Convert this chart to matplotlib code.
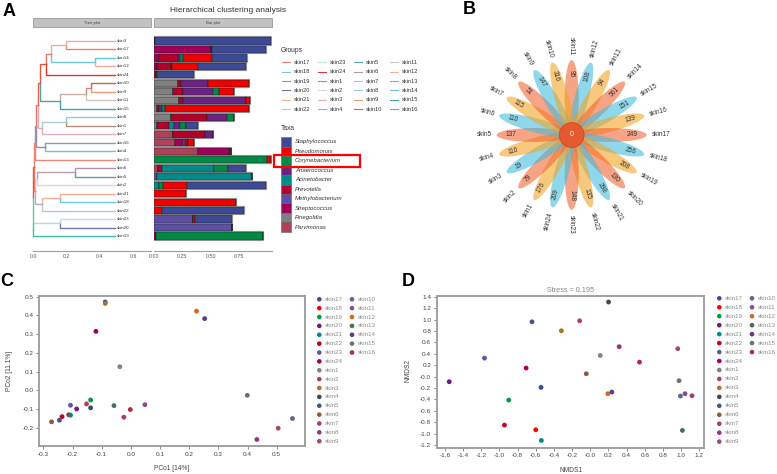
import matplotlib
matplotlib.use('Agg')
import numpy as np
import matplotlib.pyplot as plt
from matplotlib.patches import Ellipse, Circle, Rectangle

plt.rcParams['font.family'] = ['Liberation Sans', 'DejaVu Sans']
plt.rcParams['axes.unicode_minus'] = False

# ---------------------------------------------------------------- data
samples = ['skin17', 'skin18', 'skin19', 'skin20', 'skin21', 'skin22', 'skin23', 'skin24',
           'skin1', 'skin2', 'skin3', 'skin4', 'skin5', 'skin6', 'skin7', 'skin8',
           'skin9', 'skin10', 'skin11', 'skin12', 'skin13', 'skin14', 'skin15', 'skin16']

# line colours of the "Groups" legend / tree branches
group_colors = ['#E8837A', '#6ECBE0', '#3DBF9D', '#6F76AE', '#F6B08E', '#BFC3DC', '#BFE5D8', '#D93A2E',
                '#B38A7C', '#DCD4DA', '#DDB2A8', '#6CC6CC', '#5F9CAE', '#B595AD', '#E4AFBE', '#9BC9CF',
                '#EA9B7E', '#C26A56', '#CBCBC2', '#F2AE96', '#F08878', '#66C9DA', '#45A5A2', '#9494B6']

# point colours for PCoA / NMDS
point_colors = ['#3B4BA3', '#FF0000', '#009A46', '#6A1A8A', '#00898A', '#C4001F', '#5B58A8', '#A6005C',
                '#838383', '#B23F5A', '#A8761E', '#414A52', '#4A5585', '#8A5A48', '#A8405C', '#93338A',
                '#A04B6E', '#5E6596', '#8A4B8C', '#D5651F', '#3E7555', '#5C3B8E', '#67776A', '#B52A3E']

# dendrogram
leaf_order = ['skin3', 'skin17', 'skin14', 'skin12', 'skin24', 'skin10', 'skin9', 'skin11',
              'skin15', 'skin8', 'skin1', 'skin7', 'skin16', 'skin4', 'skin13', 'skin6',
              'skin5', 'skin2', 'skin21', 'skin18', 'skin22', 'skin23', 'skin20', 'skin19']
leaf_depth = 0.49
merges = [('n1', 'skin3', 'skin17', 0.20), ('n2', 'skin14', 'skin12', 0.37),
          ('n3', 'n1', 'n2', 0.11), ('n4', 'n3', 'skin24', 0.08),
          ('n5', 'skin10', 'skin9', 0.35), ('n6', 'n5', 'skin11', 0.32),
          ('n7', 'n6', 'skin15', 0.16), ('n8', 'n4', 'n7', 0.042),
          ('n9', 'skin8', 'skin1', 0.197), ('n10', 'n9', 'skin7', 0.052),
          ('n11', 'n8', 'n10', 0.03), ('n12', 'skin16', 'skin4', 0.072),
          ('n13', 'n11', 'n12', 0.02), ('n14', 'n13', 'skin13', 0.012),
          ('n15', 'skin6', 'skin5', 0.25), ('n16', 'n15', 'skin2', 0.026),
          ('n17', 'skin21', 'skin18', 0.16), ('n18', 'n17', 'skin22', 0.052),
          ('n19', 'n16', 'n18', 0.012), ('n20', 'n14', 'n19', 0.006),
          ('n21', 'skin23', 'skin20', 0.16), ('n22', 'n21', 'skin19', 0.002),
          ('root', 'n20', 'n22', 0.0)]
node_colors = {'n1': '#D9B3A8', 'n2': '#6CC8D8', 'n3': '#E07868', 'n4': '#E8503C',
               'n5': '#C98A78', 'n6': '#C8B0A8', 'n7': '#4AA898', 'n8': '#E8604C',
               'n9': '#A8D0D2', 'n10': '#E0A8B0', 'n11': '#F07060', 'n12': '#8C8CB0',
               'n13': '#A890A0', 'n14': '#F08070', 'n15': '#B8A0B0', 'n16': '#D8D4DC',
               'n17': '#F4B090', 'n18': '#B0B0D0', 'n19': '#F08070', 'n20': '#F05040',
               'n21': '#B0E0D0', 'n22': '#60C8A8'}

# taxa bar plot (relative abundance, same order as leaf_order)
taxa = ['Staphylococcus', 'Pseudomonas', 'Corynebacterium', 'Anaerococcus', 'Acinetobacter',
        'Prevotella', 'Methylobacterium', 'Streptococcus', 'Finegoldia', 'Parvimonas']
taxa_colors = ['#3C4A96', '#F00000', '#008B45', '#6B2383', '#008B8B',
               '#B5002B', '#5E4FA2', '#A0005A', '#808080', '#B0415A']
stack_order = ['Parvimonas', 'Finegoldia', 'Streptococcus', 'Methylobacterium', 'Prevotella',
               'Acinetobacter', 'Anaerococcus', 'Corynebacterium', 'Pseudomonas', 'Staphylococcus']
abund = {
    'skin3':  [0, 0, 0.006, 0, 0, 0, 0, 0, 0, 1.02],
    'skin17': [0, 0, 0.50, 0, 0, 0, 0.008, 0, 0, 0.48],
    'skin14': [0, 0, 0.047, 0, 0.167, 0, 0.012, 0.03, 0.255, 0.31],
    'skin12': [0, 0, 0.03, 0, 0.12, 0, 0.01, 0, 0.225, 0.42],
    'skin24': [0, 0, 0, 0, 0.015, 0, 0, 0.015, 0, 0.32],
    'skin10': [0, 0.214, 0, 0, 0.02, 0, 0.24, 0, 0.365, 0],
    'skin9':  [0, 0.17, 0, 0, 0.082, 0, 0.264, 0.053, 0.132, 0],
    'skin11': [0, 0.223, 0, 0, 0.03, 0, 0.554, 0, 0.038, 0],
    'skin15': [0, 0.03, 0, 0, 0.018, 0, 0.02, 0.03, 0.74, 0],
    'skin8':  [0, 0.147, 0, 0, 0.317, 0, 0.176, 0.067, 0, 0],
    'skin1':  [0, 0.03, 0, 0, 0.105, 0.041, 0.053, 0.053, 0, 0.105],
    'skin7':  [0.17, 0, 0, 0, 0.279, 0, 0.067, 0, 0, 0],
    'skin16': [0.185, 0, 0.073, 0.015, 0.03, 0, 0, 0, 0.047, 0],
    'skin4':  [0.39, 0, 0.273, 0, 0.01, 0, 0, 0, 0, 0],
    'skin13': [0, 0, 0, 0, 0, 0, 0, 0.99, 0.035, 0],
    'skin6':  [0.038, 0, 0, 0, 0.03, 0.463, 0, 0.123, 0, 0.155],
    'skin5':  [0, 0, 0, 0.023, 0, 0.84, 0, 0, 0, 0],
    'skin2':  [0, 0, 0, 0, 0, 0.047, 0, 0.03, 0.21, 0.695],
    'skin21': [0, 0, 0, 0, 0, 0, 0, 0, 0.28, 0],
    'skin18': [0, 0, 0, 0, 0, 0, 0, 0, 0.72, 0],
    'skin22': [0, 0, 0, 0, 0, 0, 0, 0, 0.073, 0.715],
    'skin23': [0, 0, 0, 0.34, 0, 0, 0, 0, 0.02, 0.33],
    'skin20': [0, 0, 0, 0.683, 0, 0, 0, 0, 0, 0],
    'skin19': [0, 0, 0.018, 0, 0, 0, 0, 0.94, 0, 0],
}

# flower plot (clockwise from top)
flower_names = ['skin11', 'skin12', 'skin13', 'skin14', 'skin15', 'skin16', 'skin17', 'skin18',
                'skin19', 'skin20', 'skin21', 'skin22', 'skin23', 'skin24', 'skin1', 'skin2',
                'skin3', 'skin4', 'skin5', 'skin6', 'skin7', 'skin8', 'skin9', 'skin10']
flower_counts = [95, 108, 94, 561, 151, 139, 249, 256, 208, 130, 298, 135,
                 148, 209, 176, 79, 19, 110, 137, 110, 115, 51, 147, 316]
core_count = 0
petal_colors = ['#F2612F', '#3FBCDE', '#F3A31E']

# PCoA
pcoa = {'skin17': (-0.088, 0.472), 'skin3': (-0.088, 0.464), 'skin24': (-0.12, 0.315),
        'skin12': (0.225, 0.423), 'skin14': (0.253, 0.383), 'skin1': (-0.038, 0.126),
        'skin15': (0.399, -0.027), 'skin10': (0.554, -0.151), 'skin9': (0.505, -0.203),
        'skin8': (0.432, -0.263), 'skin11': (0.048, -0.077), 'skin16': (-0.002, -0.103),
        'skin7': (-0.024, -0.144), 'skin13': (-0.058, -0.082), 'skin19': (-0.138, -0.052),
        'skin4': (-0.138, -0.094), 'skin2': (-0.152, -0.073), 'skin20': (-0.186, -0.1),
        'skin23': (-0.207, -0.08), 'skin21': (-0.207, -0.133), 'skin18': (-0.213, -0.131),
        'skin22': (-0.236, -0.141), 'skin5': (-0.245, -0.16), 'skin6': (-0.272, -0.169)}
# NMDS
nmds = {'skin4': (0.201, 1.307), 'skin5': (-0.641, 0.96), 'skin2': (-0.117, 0.978),
        'skin3': (-0.318, 0.803), 'skin8': (0.318, 0.524), 'skin9': (0.963, 0.489),
        'skin1': (0.11, 0.37), 'skin23': (-1.164, 0.324), 'skin16': (0.542, 0.254),
        'skin24': (-0.706, 0.15), 'skin6': (-0.044, 0.05), 'skin20': (-1.552, -0.09),
        'skin17': (-0.542, -0.189), 'skin15': (0.977, -0.072), 'skin12': (0.194, -0.3),
        'skin14': (0.238, -0.27), 'skin10': (0.992, -0.341), 'skin11': (1.043, -0.3),
        'skin7': (1.12, -0.335), 'skin19': (-0.897, -0.411), 'skin22': (-0.944, -0.85),
        'skin18': (-0.6, -0.932), 'skin21': (-0.538, -1.119), 'skin13': (1.014, -0.943)}
stress = 0.195

# ---------------------------------------------------------------- figure
W, H = 777, 474
fig = plt.figure(figsize=(W / 100, H / 100), dpi=100)


def px_axes(x0, y0, x1, y1):
    return fig.add_axes([x0 / W, 1 - y1 / H, (x1 - x0) / W, (y1 - y0) / H])


gcol = dict(zip(samples, group_colors))
pcol = dict(zip(samples, point_colors))

# ---- A: tree
tx = px_axes(33, 30, 151, 250.5)
tx.set_xlim(0, 0.706)
tx.set_ylim(-1.71, 24.3)
pos = {leaf: (leaf_depth, 23 - i) for i, leaf in enumerate(leaf_order)}
for name, a, b, h in merges:
    pos[name] = (h, (pos[a][1] + pos[b][1]) / 2)
for name, a, b, h in merges:
    py = pos[name][1]
    for c in (a, b):
        cx, cy = pos[c]
        col = gcol[c] if c in gcol else node_colors[c]
        tx.plot([h, h, cx], [py, cy, cy], color=col, lw=1.0, clip_on=False,
                solid_joinstyle='miter')
for leaf in leaf_order:
    tx.text(leaf_depth + 0.012, pos[leaf][1], leaf, fontsize=3.2, color='#333333',
            va='center', ha='left')

# ---- A: bars
bx = px_axes(154, 30, 272, 250.5)
bx.set_xlim(0, 1.038)
bx.set_ylim(-1.71, 24.3)
ys = np.array([23 - i for i in range(len(leaf_order))])
vals = np.array([abund[s] for s in leaf_order])
bx.barh(ys, vals.sum(axis=1), height=0.84, color='none', edgecolor='#B0B0B0', lw=1.6, zorder=1)
left = np.zeros(len(leaf_order))
for j, tname in enumerate(stack_order):
    col = taxa_colors[taxa.index(tname)]
    bx.barh(ys, vals[:, j], left=left, height=0.84, color=col, edgecolor='#222222', lw=0.35, zorder=2)
    left += vals[:, j]

for ax, ticks, labels in ((tx, [0, 0.2, 0.4, 0.6], ['0.0', '0.2', '0.4', '0.6']),
                          (bx, [0, 0.25, 0.5, 0.75], ['0.00', '0.25', '0.50', '0.75'])):
    for s in ('top', 'right', 'left'):
        ax.spines[s].set_visible(False)
    ax.spines['bottom'].set_color('#A0A0A0')
    ax.spines['bottom'].set_linewidth(0.8)
    ax.set_yticks([])
    ax.set_xticks(ticks)
    ax.set_xticklabels(labels)
    ax.tick_params(axis='x', length=0, pad=2.5, labelsize=3.8, labelcolor='#555555')
    ax.patch.set_alpha(0)

# ---- B: flower
fx = px_axes(470, 25, 680, 245)
fx.set_xlim(-101.7, 108.3)
fx.set_ylim(-110, 110)
fx.axis('off')
for i, (name, cnt) in enumerate(zip(flower_names, flower_counts)):
    a = 90 - 15 * i
    ar = np.deg2rad(a)
    fx.add_patch(Ellipse((37.5 * np.cos(ar), 37.5 * np.sin(ar)), 75, 14, angle=a,
                         fc=petal_colors[i % 3], ec='none', alpha=0.58))
    an = a % 360
    if an == 90 or an == 270:
        rot = -90
    elif 90 < an < 270:
        rot = an - 180
    else:
        rot = a
    fx.text(61 * np.cos(ar), 61 * np.sin(ar), str(cnt), fontsize=4.8, color='#333333',
            rotation=rot, rotation_mode='anchor', ha='center', va='center', zorder=6)
    if an == 90:
        ha = 'right'
    elif an == 270:
        ha = 'left'
    elif 90 < an < 270:
        ha = 'right'
    else:
        ha = 'left'
    fx.text(80 * np.cos(ar), 80 * np.sin(ar), name, fontsize=4.7, color='#333333',
            rotation=rot, rotation_mode='anchor', ha=ha, va='center')
fx.add_patch(Circle((0, 0), 12.4, fc='#E8552A', ec='#E03A18', lw=0.6, alpha=0.92, zorder=5))
fx.text(0, 0, str(core_count), fontsize=5, color='white', ha='center', va='center', zorder=7)


# ---- C / D scatter
def style_box(ax):
    for s in ax.spines.values():
        s.set_color('#9A9A9A')
        s.set_linewidth(1.3)
    ax.tick_params(direction='out', length=2.5, width=0.6, color='#777777',
                   labelsize=4.6, labelcolor='#444444', pad=1.5)


cx_ = px_axes(39.3, 296, 305.3, 446)
for s in samples:
    cx_.scatter(*pcoa[s], s=12, color=pcol[s], edgecolor='none', zorder=3)
cx_.set_xlim(-0.314, 0.598)
cx_.set_ylim(-0.298, 0.504)
cx_.set_xticks(np.round(np.arange(-0.3, 0.51, 0.1), 1))
cx_.set_yticks(np.round(np.arange(-0.2, 0.51, 0.1), 1))
cx_.xaxis.set_major_formatter(matplotlib.ticker.FormatStrFormatter('%.1f'))
cx_.yaxis.set_major_formatter(matplotlib.ticker.FormatStrFormatter('%.1f'))
style_box(cx_)

dx = px_axes(436.7, 295.7, 704.3, 447.7)
for s in samples:
    dx.scatter(*nmds[s], s=12, color=pcol[s], edgecolor='none', zorder=3)
dx.set_xlim(-1.69, 1.255)
dx.set_ylim(-1.246, 1.418)
dx.set_xticks(np.round(np.arange(-1.6, 1.21, 0.2), 1))
dx.set_yticks(np.round(np.arange(-1.2, 1.41, 0.2), 1))
dx.xaxis.set_major_formatter(matplotlib.ticker.FormatStrFormatter('%.1f'))
dx.yaxis.set_major_formatter(matplotlib.ticker.FormatStrFormatter('%.1f'))
style_box(dx)

# ---- overlay for legends, strips and labels (pixel coordinates)
ov = fig.add_axes([0, 0, 1, 1], zorder=10)
ov.set_xlim(0, W)
ov.set_ylim(H, 0)
ov.axis('off')
ov.patch.set_alpha(0)

ov.text(3, 11, 'A', fontsize=13, fontweight='bold', ha='left', va='center')
ov.text(463, 9, 'B', fontsize=13, fontweight='bold', ha='left', va='center')
ov.text(0, 281, 'C', fontsize=13, fontweight='bold', ha='left', va='center')
ov.text(402, 281, 'D', fontsize=13, fontweight='bold', ha='left', va='center')

ov.text(227.5, 10, 'Hierarchical clustering analysis', fontsize=6, color='#333333',
        ha='center', va='center')
for x0, x1, lab in ((32.7, 150.7, 'Tree plot'), (154, 271.7, 'Bar plot')):
    ov.add_patch(Rectangle((x0, 18.3), x1 - x0, 9, fc='#C2C2C2', ec='#9A9A9A', lw=0.6))
    ov.text((x0 + x1) / 2, 22.9, lab, fontsize=3, color='#444444', ha='center', va='center')

# Groups legend
ov.text(281, 50, 'Groups', fontsize=4.8, color='#333333', ha='left', va='center')
col_x = [281.7, 317.7, 353.5, 390]
for k, s in enumerate(samples):
    c, r = divmod(k, 6)
    y = 62.3 + r * 9.35
    ov.plot([col_x[c], col_x[c] + 8.3], [y, y], color=gcol[s], lw=0.8)
    ov.text(col_x[c] + 12.3, y, s, fontsize=4.1, color='#333333', ha='left', va='center')

# Taxa legend
ov.text(281, 129, 'Taxa', fontsize=4.8, color='#333333', ha='left', va='center')
for k, (t, c) in enumerate(zip(taxa, taxa_colors)):
    y = 142 + k * 9.45
    ov.add_patch(Rectangle((281, y - 4.7), 9.7, 9.4, fc=c, ec='#666666', lw=0.4))
    ov.text(295, y, t, fontsize=4.3, style='italic', color='#333333', ha='left', va='center')
ov.add_patch(Rectangle((273.5, 154.5), 86.5, 12.5, fill=False, ec='#FF0000', lw=1.6))

# C / D legends
for mx, row0, dy in ((319.3, 299.3, 8.87), (719.3, 298.3, 8.96)):
    for k, s in enumerate(samples):
        c, r = (0, k) if k < 17 else (1, k - 17)
        y = row0 + r * dy
        xm = mx + c * 32.7
        ov.scatter(xm, y, s=11, color=pcol[s], edgecolor='none')
        ov.text(xm + 5.5, y, s, fontsize=4.5, color='#8A8A8A', ha='left', va='center')

ov.text(172, 469, 'PCo1 [14%]', fontsize=4.8, color='#444444', ha='center', va='center')
ov.text(10, 371, 'PCo2 [11.1%]', fontsize=4.8, color='#444444', ha='center', va='center',
        rotation=90)
ov.text(570.5, 470, 'NMDS1', fontsize=4.8, color='#444444', ha='center', va='center')
ov.text(408, 371, 'NMDS2', fontsize=4.8, color='#444444', ha='center', va='center', rotation=90)
ov.text(570.5, 290, f'Stress = {stress}', fontsize=5.2, color='#888888', ha='center', va='center')

fig.savefig('out.png', dpi=100)
